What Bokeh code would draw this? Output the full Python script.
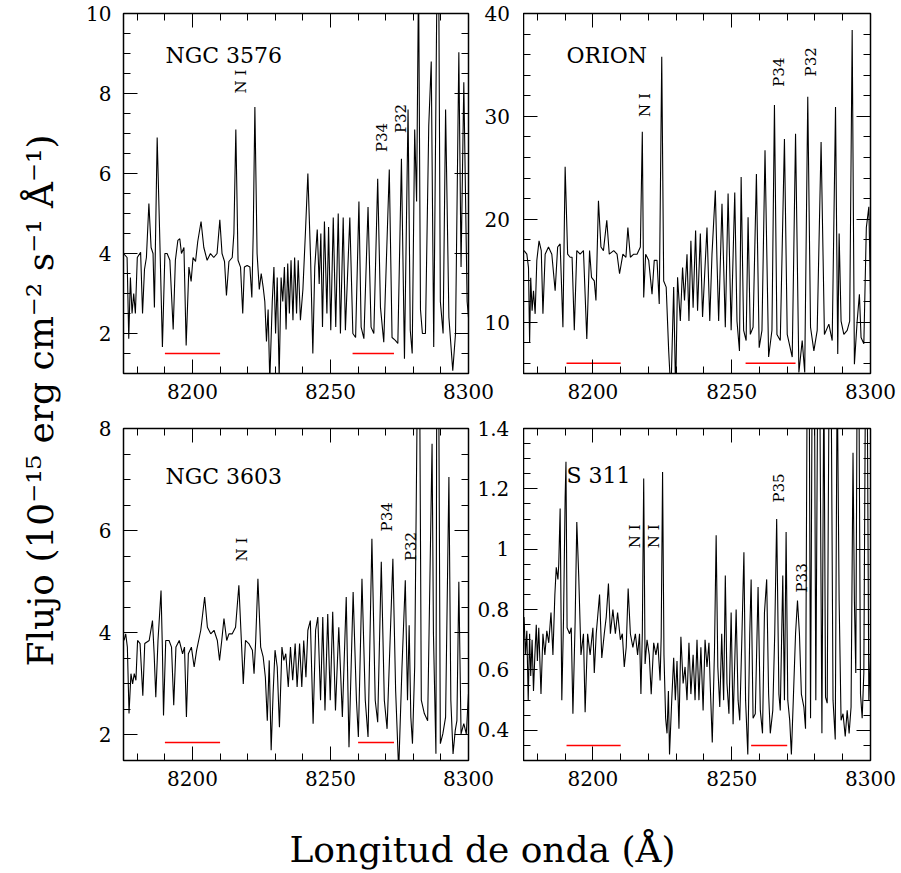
from math import pi
from bokeh.plotting import figure
from bokeh.layouts import row, column
from bokeh.models import (LinearAxis, Range1d, SingleIntervalTicker, Label,
                          CustomJSTickFormatter)
from bokeh.embed import file_html
from bokeh.resources import INLINE
from bokeh.core.properties import value

# ---------------- data (wavelength in Angstrom, flux) ----------------
ngc3576 = [(8175.0,4.0),(8176.3,3.9),(8176.9,1.87),(8177.5,3.4),(8178.1,2.5),(8178.7,3.0),(8179.3,2.5),
 (8180.0,3.9),(8181.2,4.03),(8181.9,2.5),(8182.6,3.6),(8183.3,3.9),(8184.2,5.25),(8185.0,4.15),(8185.7,4.0),
 (8186.2,2.65),(8187.2,6.9),(8188.1,4.5),(8189.1,1.66),(8190.0,4.0),(8190.8,4.0),(8191.8,3.83),(8193.0,2.1),
 (8193.8,3.83),(8194.7,4.33),(8195.4,4.37),(8196.0,4.0),(8196.9,4.15),(8197.7,1.7),(8198.7,3.66),(8199.5,3.3),
 (8200.2,3.9),(8201.1,3.8),(8201.9,4.3),(8203.1,4.8),(8204.1,4.15),(8205.3,3.83),(8206.5,4.0),(8207.7,3.9),
 (8208.9,4.0),(8209.9,4.84),(8210.7,4.0),(8211.6,3.8),(8212.3,2.95),(8213.2,3.8),(8214.4,3.9),(8215.0,4.5),
 (8215.7,7.1),(8216.5,3.83),(8217.4,3.66),(8218.2,2.5),(8218.8,3.66),(8219.8,3.7),(8220.8,3.66),(8221.5,2.9),
 (8222.0,4.5),(8222.6,7.66),(8223.4,4.0),(8224.2,3.1),(8224.9,3.5),(8225.6,3.16),(8226.2,2.8),(8226.8,1.8),
 (8227.4,2.6),(8228.0,0.8),(8228.9,2.8),(8229.5,3.66),(8230.1,2.0),(8230.7,3.4),(8231.4,0.9),(8232.1,3.4),
 (8232.7,2.8),(8233.3,3.66),(8233.9,2.1),(8234.5,3.75),(8235.1,2.5),(8235.7,3.83),(8236.4,2.33),(8237.0,3.9),
 (8237.7,2.5),(8238.3,3.83),(8239.1,2.33),(8240.0,3.1),(8240.9,4.5),(8241.8,6.0),(8242.8,3.83),(8243.6,1.5),
 (8244.3,3.66),(8245.2,4.6),(8245.9,3.24),(8246.5,4.5),(8247.1,2.16),(8247.8,4.8),(8248.7,2.5),(8249.3,4.66),
 (8250.1,2.08),(8251.0,4.9),(8251.9,2.16),(8252.8,5.0),(8253.6,2.0),(8254.6,4.9),(8255.4,2.08),(8257.0,4.9),
 (8258.1,2.0),(8259.1,1.9),(8260.3,5.3),(8261.1,2.16),(8262.1,1.87),(8263.6,5.16),(8264.7,2.16),(8265.7,2.0),
 (8267.1,5.87),(8268.1,2.66),(8269.3,1.78),(8271.3,6.1),(8272.3,1.9),(8273.5,1.83),(8274.4,1.75),(8275.7,6.37),
 (8276.8,1.37),(8278.1,7.6),(8278.9,2.08),(8279.6,1.5),(8280.5,7.1),(8281.2,5.3),(8281.9,11.0),(8282.6,2.6),
 (8283.3,2.0),(8284.4,2.0),(8285.6,7.2),(8286.5,8.8),(8287.4,1.66),(8288.6,11.0),(8289.2,11.0),(8289.8,2.8),
 (8290.8,2.0),(8291.7,7.6),(8292.9,2.4),(8294.3,1.07),(8295.3,2.0),(8296.5,9.03),(8297.3,3.66),(8298.3,8.28),
 (8299.5,2.8),(8300.0,2.4)]

orion = [(8175.2,16.95),(8176.2,16.6),(8176.8,15.3),(8177.2,8.0),(8177.6,14.3),(8178.1,11.1),(8178.6,13.05),
 (8179.2,10.8),(8179.8,16.0),(8180.6,17.9),(8181.4,16.95),(8182.0,10.8),(8182.8,16.6),(8184.0,17.3),(8185.2,16.6),
 (8186.4,13.05),(8187.3,17.3),(8188.2,17.6),(8189.2,9.5),(8190.0,25.1),(8190.9,16.6),(8191.8,16.3),(8192.5,16.3),
 (8193.3,9.2),(8194.2,16.95),(8195.4,16.6),(8196.6,16.95),(8197.8,8.35),(8198.8,16.95),(8199.5,14.35),(8200.5,14.0),
 (8201.1,12.1),(8202.0,21.8),(8202.9,17.3),(8203.8,16.95),(8205.0,19.9),(8205.9,16.6),(8207.5,16.95),(8208.7,16.6),
 (8209.6,14.7),(8210.8,16.6),(8211.9,16.3),(8212.6,19.2),(8213.5,16.3),(8214.7,16.6),(8215.9,16.6),(8217.1,17.3),
 (8217.8,28.5),(8218.3,12.4),(8219.0,16.6),(8220.1,16.0),(8221.3,12.7),(8222.1,16.0),(8223.1,16.0),(8223.9,11.75),
 (8224.8,35.8),(8225.5,14.0),(8226.4,13.4),(8227.3,7.2),(8228.1,3.0),(8229.1,13.4),(8229.8,3.0),(8230.5,14.35),
 (8231.5,10.1),(8232.3,15.3),(8233.0,12.1),(8233.9,16.6),(8234.6,10.1),(8235.3,17.9),(8236.1,11.4),(8237.0,18.9),
 (8237.7,11.1),(8238.7,18.6),(8239.5,10.5),(8241.1,19.2),(8242.1,10.1),(8242.9,16.6),(8244.1,22.8),(8244.7,16.0),
 (8245.3,10.1),(8246.5,21.5),(8247.7,9.5),(8248.7,22.5),(8249.8,9.2),(8251.1,22.6),(8251.9,10.1),(8252.8,7.2),
 (8253.4,24.1),(8254.3,9.2),(8255.2,8.2),(8255.9,20.2),(8256.7,8.8),(8257.7,9.5),(8258.9,24.4),(8259.9,7.5),
 (8260.9,9.2),(8262.0,26.7),(8263.3,6.6),(8264.5,9.2),(8265.4,31.1),(8266.3,8.8),(8267.5,8.2),(8269.0,27.8),
 (8270.0,8.8),(8271.8,6.6),(8273.0,28.3),(8274.2,5.1),(8275.4,8.2),(8276.3,5.1),(8277.4,31.9),(8278.4,9.5),
 (8279.6,7.2),(8280.8,9.2),(8282.2,27.5),(8283.4,8.8),(8285.0,9.8),(8286.2,8.2),(8287.4,30.9),(8288.2,6.9),
 (8288.7,18.6),(8289.4,10.1),(8290.4,8.8),(8291.6,9.2),(8292.5,10.1),(8293.4,38.4),(8294.2,5.9),(8295.2,10.1),
 (8296.0,12.7),(8296.6,8.5),(8297.6,7.9),(8298.5,19.2),(8299.4,21.2),(8300.0,12.7)]

ngc3603 = [(8175.2,3.85),(8175.8,3.98),(8176.4,3.72),(8177.0,2.42),(8177.7,3.2),(8178.3,3.0),(8178.9,3.2),
 (8179.5,3.07),(8180.1,3.85),(8181.0,3.79),(8182.0,2.77),(8182.7,3.79),(8184.3,3.85),(8185.5,4.24),(8186.1,3.59),
 (8186.7,2.74),(8187.5,3.85),(8188.6,4.83),(8189.1,3.66),(8189.5,2.38),(8190.3,3.85),(8191.5,3.85),(8192.4,3.72),
 (8193.2,2.58),(8194.0,3.72),(8195.2,3.85),(8196.4,3.59),(8197.1,3.72),(8197.8,2.35),(8198.5,3.59),(8199.6,3.72),
 (8200.6,3.33),(8201.5,3.66),(8203.0,4.05),(8204.4,4.7),(8205.4,4.11),(8206.6,3.98),(8207.8,4.05),(8209.0,3.85),
 (8209.8,3.46),(8210.6,3.85),(8211.4,4.28),(8212.4,3.85),(8213.2,3.98),(8214.4,3.98),(8215.6,4.11),(8216.8,4.93),
 (8217.7,3.85),(8218.4,3.0),(8219.2,3.85),(8220.4,3.79),(8221.7,3.66),(8222.3,3.2),(8222.9,3.85),(8223.7,5.06),
 (8224.7,3.72),(8225.6,3.53),(8226.4,3.13),(8227.1,2.28),(8227.8,3.46),(8228.5,1.7),(8229.2,2.81),(8229.9,3.66),
 (8230.7,3.33),(8231.5,2.15),(8232.4,3.72),(8233.1,3.46),(8233.8,3.59),(8234.7,2.94),(8235.5,3.72),(8236.3,3.07),
 (8237.2,3.79),(8237.9,2.94),(8238.8,3.79),(8239.6,2.94),(8240.3,3.85),(8241.1,3.13),(8241.8,4.05),(8242.7,4.24),
 (8243.7,2.22),(8244.6,4.05),(8245.4,4.31),(8246.4,2.68),(8247.2,4.31),(8248.0,2.48),(8249.0,4.37),(8249.9,2.68),
 (8250.8,4.41),(8251.8,2.48),(8253.0,4.11),(8254.3,2.35),(8255.7,4.7),(8256.7,1.76),(8258.2,4.8),(8259.4,2.68),
 (8260.1,1.96),(8261.4,5.06),(8262.6,2.68),(8263.6,1.96),(8265.0,5.84),(8266.2,2.68),(8267.1,2.25),(8268.4,5.39),
 (8269.5,2.68),(8270.5,2.12),(8272.6,5.45),(8273.6,2.87),(8274.7,1.3),(8275.9,3.33),(8277.1,5.03),(8277.9,2.68),
 (8278.5,4.15),(8279.1,2.35),(8279.7,1.83),(8280.5,3.33),(8281.5,9.0),(8282.3,9.0),(8282.9,2.68),(8284.0,2.42),
 (8285.2,2.28),(8286.8,7.7),(8287.3,3.98),(8288.2,1.63),(8288.5,9.0),(8289.2,9.0),(8289.8,1.83),(8290.7,2.02),
 (8291.7,2.35),(8292.9,7.05),(8293.6,2.68),(8294.4,1.63),(8295.2,2.09),(8295.8,2.28),(8296.5,5.0),(8297.3,2.02),
 (8298.3,2.22),(8299.2,2.02),(8300.0,2.81)]

s311 = [(8175.2,0.775),(8175.7,0.65),(8176.2,0.73),(8176.7,0.5),(8177.2,0.72),(8177.6,0.58),(8178.1,0.70),
 (8178.6,0.53),(8179.1,0.65),(8179.6,0.75),(8180.0,0.63),(8180.5,0.74),(8181.3,0.52),(8182.0,0.72),(8182.7,0.65),
 (8183.4,0.73),(8184.1,0.69),(8184.9,0.79),(8185.6,0.65),(8186.3,0.85),(8186.8,0.94),(8187.4,0.9),(8187.7,0.95),
 (8188.2,1.135),(8188.8,0.5),(8189.4,0.76),(8190.0,1.17),(8190.3,1.29),(8190.7,0.74),(8191.6,0.72),(8192.2,0.74),
 (8192.8,0.455),(8193.6,0.76),(8194.2,1.09),(8194.9,0.91),(8195.7,0.65),(8196.6,0.72),(8197.2,0.46),(8198.1,0.72),
 (8199.0,0.65),(8200.0,0.74),(8200.5,0.59),(8201.2,0.72),(8202.4,0.85),(8203.2,0.64),(8204.1,0.72),(8204.8,0.775),
 (8205.6,0.886),(8206.3,0.72),(8207.2,0.8),(8208.1,0.72),(8208.9,0.79),(8209.9,0.70),(8210.6,0.72),(8211.3,0.61),
 (8212.0,0.675),(8212.7,0.87),(8213.5,0.72),(8214.4,0.675),(8215.3,0.72),(8216.1,0.65),(8216.8,0.72),(8217.3,0.52),
 (8217.8,0.72),(8218.3,1.234),(8218.8,0.62),(8219.5,0.70),(8220.3,0.65),(8221.0,0.52),(8221.9,0.69),(8222.7,0.65),
 (8223.4,0.69),(8224.2,0.565),(8224.6,0.71),(8225.1,1.256),(8225.6,0.65),(8226.2,0.44),(8226.7,0.39),(8227.2,0.53),
 (8227.6,0.32),(8228.4,0.5),(8229.1,0.64),(8229.7,0.5),(8230.3,0.63),(8231.0,0.405),(8231.7,0.71),(8232.5,0.555),
 (8233.2,0.61),(8233.9,0.5),(8234.6,0.69),(8235.3,0.52),(8236.1,0.65),(8236.8,0.5),(8237.5,0.70),(8238.2,0.5),
 (8238.9,0.675),(8239.7,0.466),(8240.4,0.70),(8241.1,0.61),(8241.8,0.69),(8242.3,0.543),(8243.0,0.36),(8243.8,0.665),
 (8244.4,1.046),(8245.0,0.61),(8245.7,0.477),(8246.4,0.72),(8247.1,0.5),(8247.7,0.913),(8248.3,0.555),(8249.0,0.455),
 (8249.8,0.79),(8250.5,0.42),(8251.6,0.8),(8252.3,0.5),(8252.9,0.433),(8253.7,0.72),(8254.4,0.99),(8255.0,0.5),
 (8255.8,0.32),(8256.5,0.72),(8257.0,0.9),(8257.7,0.44),(8258.5,0.455),(8259.5,0.875),(8260.3,0.466),(8261.1,0.39),
 (8261.8,0.79),(8262.6,0.9),(8263.3,0.52),(8263.9,0.39),(8264.8,0.466),(8265.5,0.72),(8266.2,1.1),(8267.0,0.52),
 (8267.5,0.466),(8268.4,0.913),(8269.0,0.5),(8269.6,1.057),(8270.2,0.5),(8270.9,0.433),(8271.5,0.32),(8272.1,0.477),
 (8273.0,0.72),(8273.7,0.83),(8274.4,0.72),(8275.1,0.52),(8276.0,0.477),(8276.6,0.405),(8277.2,1.6),(8277.9,1.6),
 (8278.4,0.44),(8279.0,1.6),(8279.8,1.6),(8280.3,0.5),(8281.0,1.6),(8281.7,1.6),(8282.5,0.39),(8283.2,1.6),
 (8283.8,0.51),(8284.4,0.49),(8285.1,1.6),(8285.8,1.6),(8286.5,0.5),(8287.3,0.37),(8288.0,1.6),(8288.7,0.83),
 (8289.4,0.433),(8290.1,0.455),(8290.9,0.38),(8291.6,0.466),(8292.3,0.39),(8293.0,0.477),(8293.7,1.32),(8294.2,0.83),
 (8294.7,0.59),(8295.2,1.6),(8295.8,1.6),(8296.4,0.52),(8297.0,0.44),(8297.6,0.59),(8298.2,1.6),(8298.8,1.6),
 (8299.4,0.5),(8300.0,0.65)]

# red continuum windows: (x_start, x_end, level)
red_ngc3576 = [(8190.0, 8210.0, 1.5), (8258.0, 8273.0, 1.5)]
red_orion = [(8190.5, 8210.0, 6.0), (8255.0, 8273.0, 6.0)]
red_ngc3603 = [(8190.0, 8210.0, 1.85), (8260.0, 8273.0, 1.85)]
red_s311 = [(8190.5, 8210.0, 0.35), (8257.0, 8270.0, 0.35)]

# line identifications: (text, x, y)
ids_ngc3576 = [("N I", 8217.4, 8.3), ("P34", 8268.5, 6.9), ("P32", 8275.7, 7.375)]
ids_orion = [("N I", 8218.6, 31.1), ("P34", 8266.9, 34.3), ("P32", 8278.4, 35.3)]
ids_ngc3603 = [("N I", 8217.8, 5.63), ("P34", 8270.3, 6.27), ("P32", 8279.0, 5.69)]
ids_s311 = [("N I", 8215.0, 1.043), ("N I", 8221.9, 1.043), ("P35", 8266.9, 1.203), ("P33", 8275.2, 0.905)]

X_RANGE = (8175, 8300)
Y_NGC3576 = (1, 10)
Y_ORION = (5, 40)
Y_NGC3603 = (1.5, 8)
Y_S311 = (0.3, 1.40001)
FONT = "DejaVu Serif"

fmt_plain = CustomJSTickFormatter(code="return String(Math.round(tick*1000)/1000);")
# right-aligned decimals: pad integers with punctuation + figure space
fmt_pad = CustomJSTickFormatter(code="""
const s = String(Math.round(tick*1000)/1000);
return s.indexOf('.') < 0 ? '\\u2008\\u2007' + s : s;""")
fmt_none = CustomJSTickFormatter(code="return '';")


def style_axis(ax, labelled, ticks=True, standoff=10):
    ax.axis_line_color = None
    ax.major_tick_in = 14 if ticks else 0
    ax.major_tick_out = 0
    ax.minor_tick_in = 7 if ticks else 0
    ax.minor_tick_out = 0
    ax.major_tick_line_color = "black" if ticks else None
    ax.minor_tick_line_color = "black" if ticks else None
    ax.major_tick_line_width = 1
    ax.minor_tick_line_width = 1
    ax.major_label_text_font = FONT
    if labelled:
        ax.major_label_text_color = "black"
        ax.major_label_text_font_size = "20px"
        ax.major_label_standoff = standoff
    else:
        ax.formatter = fmt_none
        ax.major_label_text_color = None
        ax.major_label_text_font_size = "0px"
        ax.major_label_standoff = 0


def panel(pts, yr, yint, ynminor, name, name_xy, ids, reds, fw, fh, bl, br, bt, bb,
          left_labels=True, neighbour=None):
    p = figure(frame_width=fw, frame_height=fh, x_range=Range1d(*X_RANGE), y_range=Range1d(*yr),
               output_backend="svg", toolbar_location=None, x_axis_type=None, y_axis_type=None,
               min_border_left=bl, min_border_right=br, min_border_top=bt, min_border_bottom=bb)
    p.outline_line_color = "black"
    p.outline_line_width = 1.5
    p.background_fill_color = "white"
    p.border_fill_color = "white"
    for loc in ("below", "above"):
        ax = LinearAxis(ticker=SingleIntervalTicker(interval=50, num_minor_ticks=5), formatter=fmt_plain)
        style_axis(ax, loc == "below")
        p.add_layout(ax, loc)
    for loc in ("left", "right"):
        ax = LinearAxis(ticker=SingleIntervalTicker(interval=yint, num_minor_ticks=ynminor),
                        formatter=fmt_plain)
        style_axis(ax, loc == "left" and left_labels, standoff=12)
        p.add_layout(ax, loc)
    if neighbour is not None:
        # tick labels of the neighbouring panel's left axis, drawn in the gap between panels
        nyr, nint, nfmt, nstand = neighbour
        p.extra_y_ranges = {"neighbour": Range1d(*nyr)}
        ax = LinearAxis(y_range_name="neighbour", ticker=SingleIntervalTicker(interval=nint),
                        formatter=nfmt)
        style_axis(ax, True, ticks=False, standoff=nstand)
        p.add_layout(ax, "right")

    wl = [a for a, b in pts]
    fx = [b for a, b in pts]
    p.line(wl, fx, line_color="black", line_width=1.1)

    p.segment(x0=[r[0] for r in reds], x1=[r[1] for r in reds],
              y0=[r[2] for r in reds], y1=[r[2] for r in reds],
              line_color="red", line_width=1.5)

    p.text(x=[name_xy[0]], y=[name_xy[1]], text=[name], text_font=value(FONT),
           text_font_size="22px", text_align="left", text_baseline="middle", text_color="black")

    p.text(x=[t[1] for t in ids], y=[t[2] for t in ids], text=[t[0] for t in ids],
           angle=pi / 2, text_font=value(FONT), text_font_size="15px",
           text_align="center", text_baseline="middle", text_color="black")
    return p


tl = panel(ngc3576, Y_NGC3576, 2, 4, "NGC 3576", (8190.2, 8.95), ids_ngc3576, red_ngc3576,
           345, 360, 48, 55, 13, 40, neighbour=(Y_ORION, 10, fmt_plain, 16))
tr = panel(orion, Y_ORION, 10, 5, "ORION", (8190.5, 35.9), ids_orion, red_orion,
           347, 360, 0, 31, 13, 40, left_labels=False)
bl = panel(ngc3603, Y_NGC3603, 2, 4, "NGC 3603", (8190.2, 7.06), ids_ngc3603, red_ngc3603,
           345, 332, 48, 55, 15, 40, neighbour=(Y_S311, 0.2, fmt_pad, 9))
br = panel(s311, Y_S311, 0.2, 4, "S 311", (8190.5, 1.245), ids_s311, red_s311,
           347, 332, 0, 31, 15, 40, left_labels=False)


def blank(w, h):
    f = figure(width=w, height=h, x_range=Range1d(0, w), y_range=Range1d(0, h),
               output_backend="svg", toolbar_location=None, x_axis_type=None, y_axis_type=None,
               min_border=0)
    f.outline_line_color = None
    f.grid.visible = False
    return f


ylab = blank(75, 800)
ylab.add_layout(Label(x=40, y=400, text="Flujo (10\u207b\u00b9\u2075 erg cm\u207b\u00b2 s\u207b\u00b9 \u00c5\u207b\u00b9)",
                      angle=pi / 2, text_align="center", text_baseline="middle",
                      text_font=FONT, text_font_size="36px", text_color="black"))

xlab = blank(901, 73)
xlab.add_layout(Label(x=482, y=24, text="Longitud de onda (\u00c5)", text_align="center",
                      text_baseline="middle", text_font=FONT, text_font_size="36px",
                      text_color="black"))

layout = column(row(ylab, column(row(tl, tr), row(bl, br))), xlab)

with open("out.html", "w") as f:
    f.write(file_html(layout, INLINE))
